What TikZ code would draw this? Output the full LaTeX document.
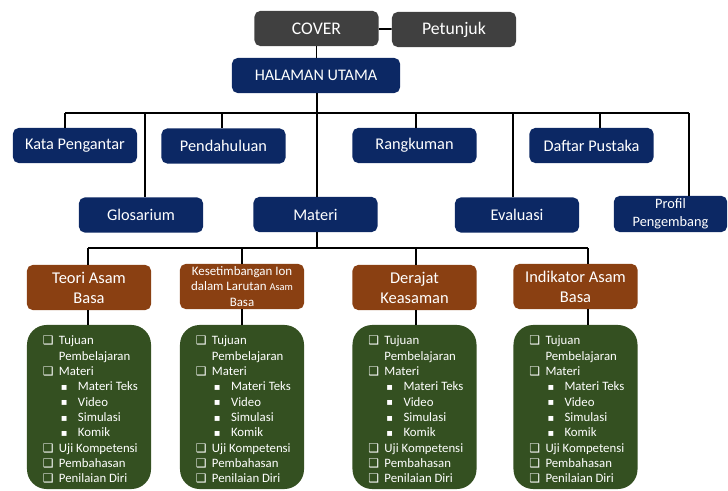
\documentclass[tikz,border=0pt]{standalone}
\usepackage{fontspec}
\setmainfont{Carlito}
\newfontfamily\symfont{DejaVu Sans}
\definecolor{navyblue}{RGB}{12,40,100}
\definecolor{covergray}{RGB}{64,64,64}
\definecolor{topicbrown}{RGB}{138,64,18}
\definecolor{listgreen}{RGB}{52,80,33}
\newcommand{\chk}{\makebox[0.4cm][l]{\raisebox{0pt}{\symfont\fontsize{8.5}{8.5}\selectfont ❑}}}
\newcommand{\cont}{\hspace*{0.4cm}}
\newcommand{\subpt}{\hspace*{0.45cm}\makebox[0.425cm][l]{\raisebox{0.3pt}{\symfont\fontsize{7}{7}\selectfont ▪}}}
\newcommand{\listcontent}{\chk Tujuan\\ \cont Pembelajaran\\ \chk Materi\\ \subpt Materi Teks\\ \subpt Video\\ \subpt Simulasi\\ \subpt Komik\\ \chk Uji Kompetensi\\ \chk Pembahasan\\ \chk Penilaian Diri}
\tikzset{
	box/.style={rounded corners=4pt, text=white, align=center, inner sep=2pt},
	navbox/.style={box, fill=navyblue, minimum width=3.1cm, minimum height=0.875cm, font=\fontsize{11.6}{13}\selectfont},
	graybox/.style={box, fill=covergray, minimum width=3.1cm, minimum height=0.875cm, font=\fontsize{12.6}{14}\selectfont},
	topicbox/.style={box, fill=topicbrown, minimum width=3.1cm, minimum height=1.125cm, font=\fontsize{11.7}{14.2}\selectfont},
	listbox/.style={rounded corners=14pt, fill=listgreen, minimum width=3.1cm, minimum height=4.1cm, inner sep=0pt},
	listtext/.style={text=white, align=left, inner sep=0pt, anchor=west, font=\fontsize{9.1}{10.9}\selectfont},
	link/.style={line width=1.2pt}
}
\begin{document}
\begin{tikzpicture}[x=0.025cm, y=-0.025cm]
	\useasboundingbox (0,0) rectangle (728,491);
	\node[graybox] (cover) at (316.5,28.5) {COVER};
	\node[graybox] (petunjuk) at (454,29.5) {Petunjuk};
	\node[navbox, minimum width=4.2cm, font=\fontsize{11.5}{13}\selectfont] (halaman) at (316,75.5) {HALAMAN UTAMA};
	\node[navbox] (kata) at (75,145.5) {Kata Pengantar};
	\node[navbox] (pend) at (223.5,146) {Pendahuluan};
	\node[navbox] (rang) at (414.5,145.5) {Rangkuman};
	\node[navbox] (daftar) at (591.5,145.5) {Daftar Pustaka};
	\node[navbox] (glos) at (141,215) {Glosarium};
	\node[navbox] (materi) at (315.5,214.5) {Materi};
	\node[navbox] (eval) at (517,215) {Evaluasi};
	\node[navbox, minimum width=2.83cm, font=\fontsize{10.2}{12.8}\selectfont] (profil) at (670.5,214) {Profil\\Pengembang};
	\node[topicbox] (teori) at (89,287.5) {Teori Asam\\Basa};
	\node[topicbox, font=\fontsize{9.2}{10.8}\selectfont] (kes) at (242,286.5) {Kesetimbangan Ion\\dalam Larutan {\fontsize{7.4}{8}\selectfont Asam}\\Basa};
	\node[topicbox] (derajat) at (414.5,287.5) {Derajat\\Keasaman};
	\node[topicbox] (indikator) at (575.5,286.5) {Indikator Asam\\Basa};
	\foreach \g/\x in {g1/89, g2/242, g3/414.5, g4/575.5}
		\node[listbox] (\g) at (\x,407) {};
	\foreach \g/\l in {g1/l1, g2/l2, g3/l3, g4/l4}
		\node[listtext] (\l) at ([xshift=0.4cm, yshift=-0.07cm]\g.west) {\listcontent};
	\coordinate (dKata) at (65,113);
	\coordinate (dGlos) at (145,113);
	\coordinate (dPend) at (222,113);
	\coordinate (dMat) at (317,113);
	\coordinate (dRang) at (416,113);
	\coordinate (dEval) at (513,113);
	\coordinate (dDaf) at (600,113);
	\coordinate (dProf) at (689,113);
	\coordinate (eTeori) at (88,248);
	\coordinate (eKes) at (242,248);
	\coordinate (eDer) at (416,248);
	\coordinate (eInd) at (588,248);
	\draw[link] (cover) -- (petunjuk);
	\draw[link] (cover) -- (cover |- halaman.north);
	\draw[link] (dMat |- halaman.south) -- (dMat);
	\draw[link] (dKata) -- (dProf);
	\foreach \d/\n in {dKata/kata, dGlos/glos, dPend/pend, dMat/materi, dRang/rang, dEval/eval, dDaf/daftar, dProf/profil}
		\draw[link] (\d) -- (\d |- \n.north);
	\draw[link] (dMat |- materi.south) -- (dMat |- eTeori);
	\draw[link] (eTeori) -- (eInd);
	\foreach \e/\t/\g in {eTeori/teori/g1, eKes/kes/g2, eDer/derajat/g3, eInd/indikator/g4}{
		\draw[link] (\e) -- (\e |- \t.north);
		\draw[link] (\e |- \t.south) -- (\e |- \g.north);
	}
\end{tikzpicture}
\end{document}
